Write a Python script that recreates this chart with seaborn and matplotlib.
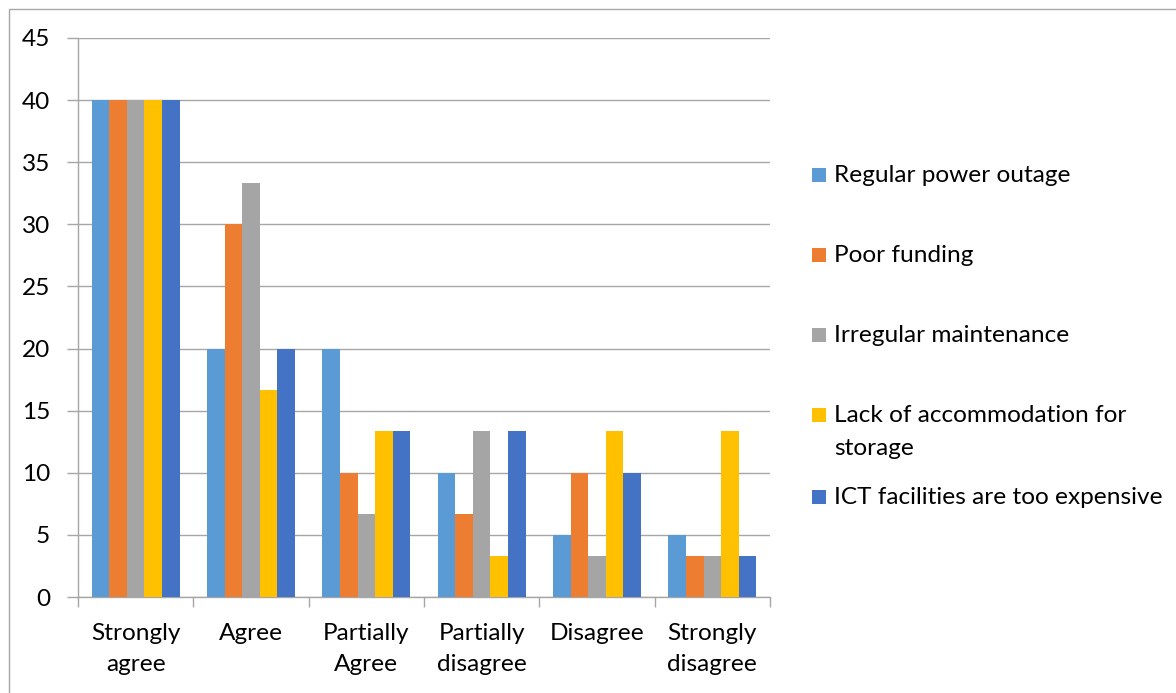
import matplotlib
matplotlib.use("Agg")
import matplotlib.pyplot as plt
from matplotlib.patches import Rectangle
import seaborn as sns
import pandas as pd

categories = ["Strongly\nagree", "Agree", "Partially\nAgree", "Partially\ndisagree",
              "Disagree", "Strongly\ndisagree"]
series = ["Regular power outage", "Poor funding", "Irregular maintenance",
          "Lack of accommodation for\nstorage", "ICT facilities are too expensive"]
power_outage = [40, 20, 20, 10, 5, 5]
poor_funding = [40, 30, 10, 6.67, 10, 3.33]
irregular_maintenance = [40, 33.33, 6.67, 13.33, 3.33, 3.33]
lack_storage = [40, 16.67, 13.33, 3.33, 13.33, 13.33]
ict_expensive = [40, 20, 13.33, 13.33, 10, 3.33]
colors = ["#5B9BD5", "#ED7D31", "#A5A5A5", "#FFC000", "#4472C4"]

values = [power_outage, poor_funding, irregular_maintenance, lack_storage, ict_expensive]
rows = []
for name, vals in zip(series, values):
    for cat, v in zip(categories, vals):
        rows.append({"category": cat, "series": name, "value": v})
df = pd.DataFrame(rows)

sns.set_theme(style="white")
plt.rcParams["font.family"] = ["Lato", "DejaVu Sans"]

FS = 17.6
W, H = 1176, 693
fig = plt.figure(figsize=(W / 100, H / 100), dpi=100)
ax = fig.add_axes([78 / W, 1 - 597 / H, (770 - 78) / W, (597 - 38) / H])

sns.barplot(data=df, x="category", y="value", hue="series", order=categories,
            hue_order=series, palette=colors, width=0.763, linewidth=0,
            saturation=1, ax=ax, legend=False, zorder=3)

grid_c = "#A6A6A6"
ax.set_xlim(-0.5, len(categories) - 0.5)
ax.set_ylim(0, 45)
ax.set_yticks(range(0, 46, 5))
ax.yaxis.grid(True, color=grid_c, linewidth=1.0, zorder=0)
ax.set_axisbelow(True)
ax.set_xlabel("")
ax.set_ylabel("")

for s in ["top", "right"]:
    ax.spines[s].set_visible(False)
for s in ["left", "bottom"]:
    ax.spines[s].set_color(grid_c)
    ax.spines[s].set_linewidth(1.0)

ax.set_xticks(range(len(categories)))
ax.set_xticklabels(categories, fontsize=FS, linespacing=1.6)
ax.set_xticks([i - 0.5 for i in range(len(categories) + 1)], minor=True)
ax.tick_params(axis="x", which="major", length=0, pad=18.5, labelcolor="#000000")
ax.tick_params(axis="x", which="minor", length=7, width=1.0, color=grid_c, bottom=True)
ax.tick_params(axis="y", which="major", length=8, width=1.0, color=grid_c, left=True,
               labelsize=FS, pad=12, labelcolor="#000000")

# legend entries stacked on the right
leg_x = 812 / W
leg_rows = [175, 255, 335, 415, 497]
sq = 14
for name, col, yy in zip(series, colors, leg_rows):
    fig.patches.append(Rectangle((leg_x, 1 - (yy + sq / 2) / H), sq / W, sq / H,
                                 transform=fig.transFigure, facecolor=col,
                                 edgecolor="none"))
    if "\n" in name:
        fig.text(834 / W, 1 - (yy - 10) / H, name, fontsize=FS, va="top", ha="left",
                 linespacing=1.7, color="#000000")
    else:
        fig.text(834 / W, 1 - yy / H, name, fontsize=FS, va="center", ha="left",
                 color="#000000")

# outer chart frame
fig.patches.append(Rectangle((9 / W, -0.01), 1.05, 1 - 9 / H + 0.01,
                             transform=fig.transFigure, facecolor="none",
                             edgecolor="#A6A6A6", linewidth=1.0))

fig.savefig("out.png", dpi=100)
